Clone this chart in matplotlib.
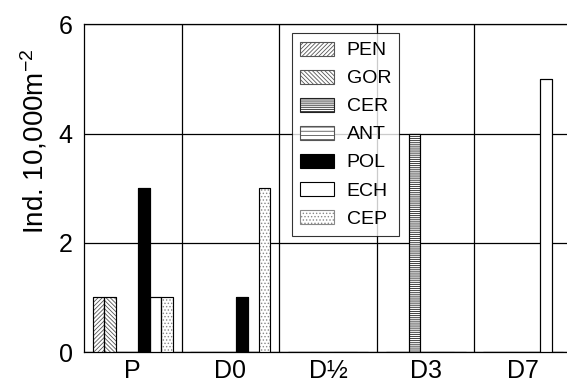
import matplotlib.pyplot as plt
import numpy as np

plt.rcParams['font.family'] = ['Liberation Sans', 'DejaVu Sans']
plt.rcParams['mathtext.fontset'] = 'custom'
plt.rcParams['mathtext.rm'] = 'Liberation Sans'
plt.rcParams['mathtext.it'] = 'Liberation Sans:italic'
plt.rcParams['hatch.linewidth'] = 0.6

# sampling occasions
days = ['P', 'D0', 'D½', 'D3', 'D7']

# densities (ind. 10,000 m^-2) per taxon
taxa = ['PEN', 'GOR', 'CER', 'ANT', 'POL', 'ECH', 'CEP']
PEN = [1, 0, 0, 0, 0]
GOR = [1, 0, 0, 0, 0]
CER = [0, 0, 0, 4, 0]
ANT = [0, 0, 0, 0, 0]
POL = [3, 1, 0, 0, 0]
ECH = [1, 0, 0, 0, 5]
CEP = [1, 3, 0, 0, 0]
values = [PEN, GOR, CER, ANT, POL, ECH, CEP]

faces = ['white', 'white', 'white', 'white', 'black', 'white', 'white']
hatches = ['////////', '\\\\\\\\\\\\\\\\', '--------', '----', None, None, '.....']
hatch_cols = ['#555555', '#555555', '#222222', '#555555', 'black', 'black', '#888888']

fig = plt.figure(figsize=(5.67, 3.84), dpi=100)
ax = fig.add_axes([0.148, 0.083, 0.861, 0.854])

x = np.arange(len(days))
w = 0.117
for i, (name, vals) in enumerate(zip(taxa, values)):
    ax.bar(x + (i - 3) * w, vals, width=w, label=name, facecolor=faces[i],
           edgecolor=hatch_cols[i], hatch=hatches[i], linewidth=0.8, zorder=3)
    # outline in black
    ax.bar(x + (i - 3) * w, vals, width=w, facecolor='none',
           edgecolor='black', linewidth=0.8, zorder=4)

ax.set_xlim(-0.5, 4.5)
ax.set_ylim(0, 6)
ax.set_yticks([0, 2, 4, 6])
ax.set_xticks(x)
ax.set_xticklabels(days)
ax.set_xticks(x[:-1] + 0.5, minor=True)
ax.tick_params(axis='both', which='both', length=0, labelsize=18)
ax.tick_params(axis='y', pad=8)
ax.tick_params(axis='x', pad=5)
ax.grid(axis='y', which='major', color='black', linewidth=0.9, zorder=1)
ax.grid(axis='x', which='minor', color='black', linewidth=0.9, zorder=1)
ax.grid(axis='x', which='major', visible=False)
for s in ax.spines.values():
    s.set_linewidth(0.9)

ax.set_ylabel('Ind. 10,000m$^{-2}$', fontsize=20)
ax.yaxis.set_label_coords(-0.07, 0.643)

leg = ax.legend(loc='upper left', bbox_to_anchor=(0.426, 0.972), borderaxespad=0,
                fontsize=14, frameon=True, fancybox=False, edgecolor='black',
                handlelength=1.75, handleheight=0.75, labelspacing=0.52,
                handletextpad=0.65, borderpad=0.42)
leg.get_frame().set_linewidth(0.8)
leg.set_zorder(5)

fig.savefig('out.png', dpi=100)
